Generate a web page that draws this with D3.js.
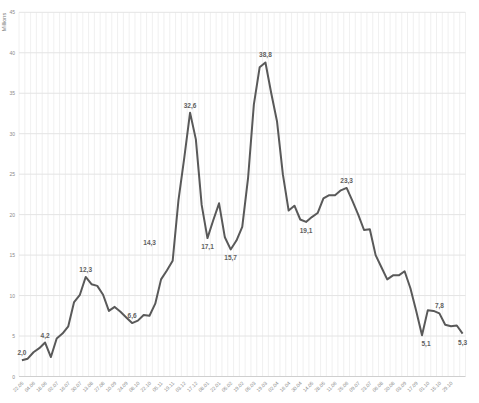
<!DOCTYPE html>
<html>
<head>
<meta charset="utf-8">
<script src="https://cdn.jsdelivr.net/npm/d3@7"></script>
<style>
  html, body { margin: 0; padding: 0; background: #fff; }
  svg { display: block; font-family: "Liberation Sans", Arial, sans-serif; }
</style>
</head>
<body>
<svg id="chart" width="479" height="403"></svg>
<script>
// ---- data ----
const categories = [
  "22.05","28.05","04.06","11.06","18.06","25.06","02.07","09.07","16.07","23.07",
  "30.07","06.08","13.08","20.08","27.08","03.09","10.09","17.09","24.09","01.10",
  "08.10","15.10","22.10","29.10","05.11","12.11","19.11","26.11","03.12","10.12",
  "17.12","01.01","08.01","15.01","22.01","29.01","05.02","12.02","19.02","26.02",
  "05.03","12.03","19.03","26.03","02.04","09.04","16.04","23.04","30.04","07.05",
  "14.05","21.05","28.05","04.06","11.06","18.06","25.06","02.07","09.07","16.07",
  "23.07","30.07","06.08","13.08","20.08","27.08","03.09","10.09","17.09","24.09",
  "01.10","08.10","15.10","22.10","29.10","05.11","12.11"
];
const values = [
  2.0, 2.2, 3.0, 3.5, 4.2, 2.4, 4.7, 5.3, 6.2, 9.2,
  10.1, 12.3, 11.4, 11.2, 10.1, 8.1, 8.6, 8.0, 7.3, 6.6,
  6.9, 7.6, 7.5, 9.0, 12.0, 13.1, 14.3, 21.8, 27.0, 32.6,
  29.3, 21.2, 17.1, 19.3, 21.4, 17.2, 15.7, 16.8, 18.5, 24.5,
  33.6, 38.2, 38.8, 35.0, 31.5, 25.0, 20.5, 21.1, 19.4, 19.1,
  19.7, 20.2, 22.0, 22.4, 22.4, 23.0, 23.3, 21.7, 20.0, 18.1,
  18.2, 15.0, 13.5, 12.0, 12.5, 12.5, 13.0, 10.9, 8.1, 5.1,
  8.2, 8.1, 7.8, 6.4, 6.2, 6.3, 5.3
];
const yTicks = [0, 5, 10, 15, 20, 25, 30, 35, 40, 45];
const yTitle = "Millions";
// labelled points: index, text, placement
const labelIdx  = [0, 4, 11, 19, 26, 29, 32, 36, 42, 49, 56, 69, 72, 76];
const labelText = ["2,0","4,2","12,3","6,6","14,3","32,6","17,1","15,7","38,8","19,1","23,3","5,1","7,8","5,3"];
const labelPos  = ["above","above","above","above","farleft","above","below","below","above","below","above","below","above","below"];

// ---- chart ----
const svg = d3.select("#chart");
const mLeft = 19, mRight = 465.5, mTop = 12.3, mBottom = 376.5;

const x = d3.scaleBand().domain(d3.range(categories.length)).range([mLeft, mRight]).paddingInner(0).paddingOuter(0);
const cx = i => x(i) + x.bandwidth() / 2;
const y = d3.scaleLinear().domain([0, 45]).range([mBottom, mTop]);

// vertical gridlines at category boundaries
const vg = svg.append("g");
vg.selectAll("line").data(d3.range(categories.length + 1)).join("line")
  .attr("x1", i => mLeft + i * x.bandwidth()).attr("x2", i => mLeft + i * x.bandwidth())
  .attr("y1", mTop).attr("y2", mBottom)
  .attr("stroke", "#ececec").attr("stroke-width", 0.8);

// horizontal gridlines
const hg = svg.append("g");
hg.selectAll("line").data(yTicks).join("line")
  .attr("x1", mLeft).attr("x2", mRight)
  .attr("y1", d => y(d)).attr("y2", d => y(d))
  .attr("stroke", d => d === 0 ? "#cfcfcf" : "#e4e4e4").attr("stroke-width", 1);

// y axis labels
const yAxis = d3.axisLeft(y).tickValues(yTicks).tickSize(0).tickPadding(4);
const yg = svg.append("g").attr("transform", `translate(${mLeft},0)`).call(yAxis);
yg.select(".domain").remove();
yg.selectAll("text").attr("fill", "#8a8a8a").attr("font-size", 5).attr("font-family", "Liberation Sans, Arial, sans-serif");

// y title
svg.append("text").attr("transform", "translate(6,22) rotate(-90)")
  .attr("text-anchor", "middle").attr("font-size", 5.5).attr("fill", "#777").text(yTitle);

// x axis labels
const xAxis = d3.axisBottom(x).tickValues(d3.range(0, 75, 2)).tickFormat(i => categories[i]).tickSize(0).tickPadding(0);
const xg = svg.append("g").attr("transform", `translate(0,${mBottom})`).call(xAxis);
xg.select(".domain").remove();
xg.selectAll("text")
  .attr("fill", "#8a8a8a").attr("font-size", 5).attr("font-family", "Liberation Sans, Arial, sans-serif")
  .attr("text-anchor", "end").attr("dy", 0)
  .attr("transform", "translate(2,7) rotate(-45)");

// line
const line = d3.line().x((d, i) => cx(i)).y(d => y(d));
svg.append("path").datum(values)
  .attr("d", line).attr("fill", "none")
  .attr("stroke", "#595959").attr("stroke-width", 2).attr("stroke-linejoin", "round");

// data labels
const lab = svg.append("g");
labelIdx.forEach((idx, k) => {
  const px = cx(idx), py = y(values[idx]);
  let tx = px, ty = py - 5;
  if (labelPos[k] === "below") { ty = py + 11; }
  if (labelPos[k] === "farleft") { tx = px - 23; ty = py - 16; }
  if (labelText[k] === "5,1") tx = px + 4;
  lab.append("text").attr("x", tx).attr("y", ty)
    .attr("text-anchor", "middle").attr("font-size", 6.5).attr("font-weight", "bold")
    .attr("fill", "#606060").text(labelText[k]);
});
</script>
</body>
</html>
